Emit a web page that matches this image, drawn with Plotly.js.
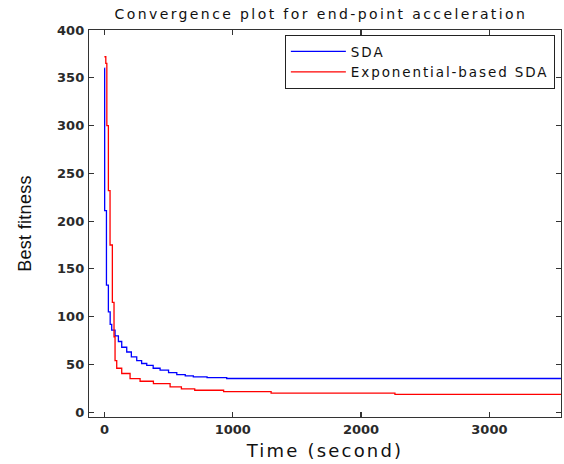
<!DOCTYPE html>
<html>
<head>
<meta charset="utf-8">
<script src="https://cdn.plot.ly/plotly-3.0.1.min.js"></script>
<style>
html,body{margin:0;padding:0;background:#fff;}
#chart{width:564px;height:464px;}
.gtitle{letter-spacing:2.4px;}
.xtitle{letter-spacing:2.2px;}
.legendtext{letter-spacing:1.9px;}
.ytitle{letter-spacing:0.3px;}
</style>
</head>
<body>
<div id="chart"></div>
<script>
// Data
const sdaTime = [0, 2, 16, 31, 45, 57, 83, 109, 135, 174, 210, 252, 290, 330, 380, 434, 500, 564, 630, 693, 800, 953, 3560];
const sdaFitness = [360, 211, 133, 105, 92, 86, 80, 74, 68, 63, 58, 54, 51, 49, 46, 44, 41.5, 39.4, 38, 37, 36.3, 35.3, 35.3];

const expTime = [0, 11, 19, 31, 44, 62, 75, 83, 96, 135, 200, 278, 382, 512, 600, 704, 929, 1299, 2264, 3560];
const expFitness = [372, 365, 300, 232, 175, 115, 79, 54, 46, 40.5, 35.2, 32.4, 30, 26.5, 24.5, 23, 21.5, 20, 18.6, 18.6];

const seriesNames = ["SDA", "Exponential-based SDA"];
const xTicks = [0, 1000, 2000, 3000];
const yTicks = [0, 50, 100, 150, 200, 250, 300, 350, 400];

const font = "DejaVu Sans, Arial, sans-serif";

const traces = [
  {x: sdaTime, y: sdaFitness, name: seriesNames[0], type: "scatter", mode: "lines",
   line: {color: "#0000ff", width: 1.3, shape: "hv"}},
  {x: expTime, y: expFitness, name: seriesNames[1], type: "scatter", mode: "lines",
   line: {color: "#ff0000", width: 1.3, shape: "hv"}}
];

const axisCommon = {
  showgrid: false, zeroline: false, showline: true, linecolor: "#333", linewidth: 1.2,
  mirror: "ticks", ticks: "inside", ticklen: 5, tickcolor: "#333", tickwidth: 1.2,
  tickfont: {family: font, size: 13, color: "#2a2a2a", weight: "bold"}
};

const layout = {
  width: 564, height: 464,
  paper_bgcolor: "#fff", plot_bgcolor: "#fff",
  margin: {l: 89, r: 3, t: 30, b: 47, pad: 0},
  title: {text: "Convergence plot for end-point acceleration", x: 0.569, xanchor: "center", y: 0.97, yanchor: "middle",
          font: {family: font, size: 14, color: "#111"}},
  xaxis: Object.assign({}, axisCommon, {
    range: [-120, 3558], tickvals: xTicks, ticktext: xTicks.map(String),
    title: {text: "Time (second)", font: {family: font, size: 18, color: "#111"}, standoff: 8}
  }),
  yaxis: Object.assign({}, axisCommon, {
    range: [-5, 400], tickvals: yTicks, ticktext: yTicks.map(String), ticklabelstandoff: 1,
    title: {text: "Best fitness", font: {family: "Liberation Sans Narrow, Liberation Sans, Arial, sans-serif", size: 18, color: "#111"}, standoff: 20}
  }),
  showlegend: true,
  legend: {x: 0.987, y: 0.987, xanchor: "right", yanchor: "top", bgcolor: "#fff",
           bordercolor: "#222", borderwidth: 1, itemwidth: 55,
           font: {family: font, size: 13.5, color: "#111"}, tracegroupgap: 0}
};

Plotly.newPlot("chart", traces, layout, {displayModeBar: false, staticPlot: true});
</script>
</body>
</html>
